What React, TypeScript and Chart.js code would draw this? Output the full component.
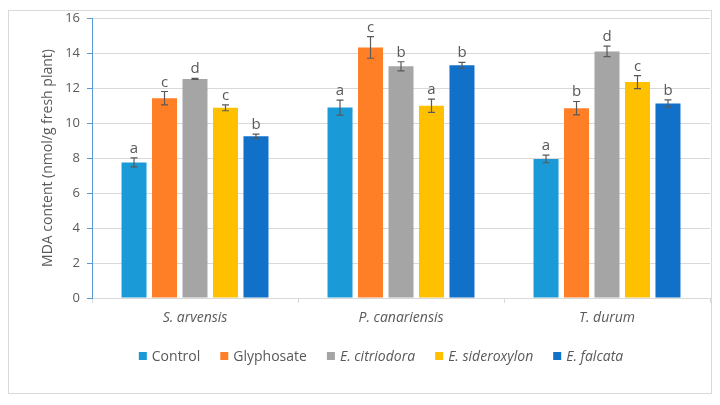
import React, { useEffect, useRef } from "react";
import { Chart, registerables } from "chart.js";

Chart.register(...registerables);

const categories = ["S. arvensis", "P. canariensis", "T. durum"];
const seriesNames = ["Control", "Glyphosate", "E. citriodora", "E. sideroxylon", "E. falcata"];
const seriesItalic = [false, false, true, true, true];
const seriesColors = ["#1A9BD7", "#FF7F27", "#A5A5A5", "#FFC000", "#1170C8"];

const controlValues = [7.75, 10.88, 7.95];
const glyphosateValues = [11.42, 14.32, 10.85];
const citriodoraValues = [12.52, 13.24, 14.09];
const sideroxylonValues = [10.87, 10.99, 12.34];
const falcataValues = [9.24, 13.3, 11.12];

const controlErrors = [0.26, 0.43, 0.22];
const glyphosateErrors = [0.38, 0.62, 0.38];
const citriodoraErrors = [0.03, 0.26, 0.3];
const sideroxylonErrors = [0.17, 0.38, 0.37];
const falcataErrors = [0.12, 0.17, 0.2];

const controlLetters = ["a", "a", "a"];
const glyphosateLetters = ["c", "c", "b"];
const citriodoraLetters = ["d", "b", "d"];
const sideroxylonLetters = ["c", "a", "c"];
const falcataLetters = ["b", "b", "b"];

const yTicks = [0, 2, 4, 6, 8, 10, 12, 14, 16];
const yTitle = "MDA content (nmol/g fresh plant)";

const allValues = [controlValues, glyphosateValues, citriodoraValues, sideroxylonValues, falcataValues];
const allErrors = [controlErrors, glyphosateErrors, citriodoraErrors, sideroxylonErrors, falcataErrors];
const allLetters = [controlLetters, glyphosateLetters, citriodoraLetters, sideroxylonLetters, falcataLetters];

const FONT = "'Open Sans', 'Noto Sans', sans-serif";
const TEXT = "#595959";

const errorBarPlugin = {
  id: "errorBars",
  afterDatasetsDraw(chart: any) {
    const ctx = chart.ctx;
    const yScale = chart.scales.y;
    ctx.save();
    chart.data.datasets.forEach((ds: any, di: number) => {
      const meta = chart.getDatasetMeta(di);
      const errs = allErrors[di];
      const letters = allLetters[di];
      meta.data.forEach((bar: any, i: number) => {
        const v = ds.data[i];
        const e = errs[i];
        const x = bar.x;
        const yTop = yScale.getPixelForValue(v + e);
        const yBot = yScale.getPixelForValue(v - e);
        ctx.strokeStyle = "#595959";
        ctx.lineWidth = 1.2;
        ctx.beginPath();
        ctx.moveTo(x, yTop);
        ctx.lineTo(x, yBot);
        ctx.moveTo(x - 3.5, yTop);
        ctx.lineTo(x + 3.5, yTop);
        ctx.moveTo(x - 3.5, yBot);
        ctx.lineTo(x + 3.5, yBot);
        ctx.stroke();
        ctx.fillStyle = TEXT;
        ctx.font = `15px ${FONT}`;
        ctx.textAlign = "center";
        ctx.textBaseline = "alphabetic";
        ctx.fillText(letters[i], x, yTop - 5);
      });
    });
    ctx.restore();
  },
};

const legendPlugin = {
  id: "customLegend",
  afterDraw(chart: any) {
    const ctx = chart.ctx;
    ctx.save();
    const box = 8;
    const gapBoxText = 5;
    const gapItems = 20;
    const widths: number[] = seriesNames.map((name, i) => {
      ctx.font = `${seriesItalic[i] ? "italic " : ""}14px ${FONT}`;
      return ctx.measureText(name).width;
    });
    const total =
      widths.reduce((a, w) => a + box + gapBoxText + w, 0) + gapItems * (seriesNames.length - 1);
    let x = chart.width / 2 + 21 - total / 2;
    const y = 345;
    seriesNames.forEach((name, i) => {
      ctx.fillStyle = seriesColors[i];
      ctx.fillRect(x, y - box / 2, box, box);
      x += box + gapBoxText;
      ctx.font = `${seriesItalic[i] ? "italic " : ""}14px ${FONT}`;
      ctx.fillStyle = TEXT;
      ctx.textAlign = "left";
      ctx.textBaseline = "middle";
      ctx.fillText(name, x, y + 1);
      x += widths[i] + gapItems;
    });
    ctx.restore();
  },
};

export default function App() {
  const canvasRef = useRef<HTMLCanvasElement | null>(null);

  useEffect(() => {
    if (!canvasRef.current) return;
    const chart = new Chart(canvasRef.current, {
      type: "bar",
      data: {
        labels: categories,
        datasets: seriesNames.map((name, i) => ({
          label: name,
          data: allValues[i],
          backgroundColor: seriesColors[i],
          borderWidth: 0,
          categoryPercentage: 0.74,
          barPercentage: 0.82,
        })),
      },
      options: {
        animation: false,
        responsive: false,
        maintainAspectRatio: false,
        layout: { padding: { top: 7, right: 1, left: 0, bottom: 0 } },
        plugins: {
          legend: { display: false },
          tooltip: { enabled: false },
        },
        scales: {
          x: {
            grid: {
              offset: true,
              drawOnChartArea: false,
              tickLength: 5,
              color: "#d9d9d9",
            },
            border: { color: "#d9d9d9", width: 1 },
            ticks: {
              color: TEXT,
              padding: 7,
              font: { family: FONT, size: 14, style: "italic" },
            },
            afterFit(scale: any) {
              scale.height = 95;
              scale.paddingLeft = 0;
              scale.paddingRight = 0;
            },
          },
          y: {
            min: 0,
            max: 16,
            afterBuildTicks(scale: any) {
              scale.ticks = yTicks.map((v) => ({ value: v }));
            },
            grid: {
              color: "#d9d9d9",
              tickLength: 5,
              tickColor: "#5B9BD5",
            },
            border: { color: "#5B9BD5", width: 1 },
            ticks: {
              color: TEXT,
              padding: 7,
              font: { family: FONT, size: 13 },
            },
            title: {
              display: true,
              text: yTitle,
              color: TEXT,
              font: { family: FONT, size: 14 },
              padding: { top: 31, bottom: 0 },
            },
            afterFit(scale: any) {
              scale.width = 83;
              scale.paddingTop = 0;
              scale.paddingBottom = 0;
            },
          },
        },
      },
      plugins: [errorBarPlugin, legendPlugin],
    });
    return () => chart.destroy();
  }, []);

  return (
    <div style={{ paddingTop: 2 }}>
      <div style={{ width: 702, height: 382, border: "1px solid #d9d9d9", background: "#fff" }}>
        <canvas ref={canvasRef} width={702} height={382} style={{ display: "block" }} />
      </div>
    </div>
  );
}
